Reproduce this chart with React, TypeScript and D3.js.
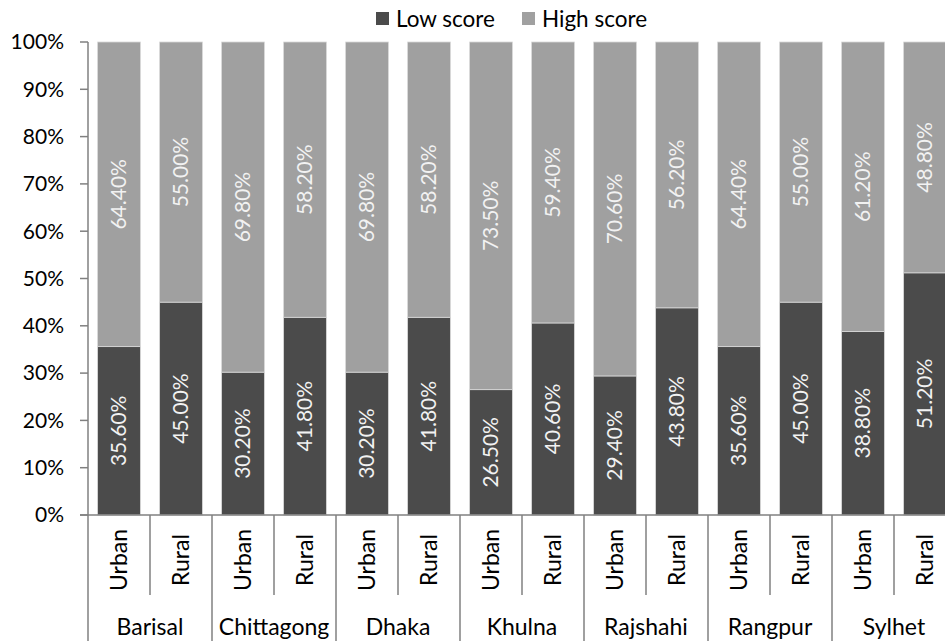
import React from "react";
import * as d3 from "d3";

const regions = ["Barisal", "Chittagong", "Dhaka", "Khulna", "Rajshahi", "Rangpur", "Sylhet"];
const areas = ["Urban", "Rural"];
const lowScore = [35.6, 45.0, 30.2, 41.8, 30.2, 41.8, 26.5, 40.6, 29.4, 43.8, 35.6, 45.0, 38.8, 51.2];
const highScore = [64.4, 55.0, 69.8, 58.2, 69.8, 58.2, 73.5, 59.4, 70.6, 56.2, 64.4, 55.0, 61.2, 48.8];
const yTicks = [0, 10, 20, 30, 40, 50, 60, 70, 80, 90, 100];
const seriesNames = ["Low score", "High score"];

const W = 945;
const H = 641;
const FONT = "Lato, 'Noto Sans', sans-serif";
const DARK = "#4b4b4b";
const LIGHT = "#a0a0a0";
const AXIS = "#808080";

export default function App() {
  const left = 88;
  const top = 42;
  const bottom = 515;
  const band = 62;

  const bars = regions.flatMap((r, i) =>
    areas.map((a, j) => ({ key: `${r}-${a}`, region: r, area: a, idx: i * 2 + j }))
  );

  const x = d3
    .scaleBand<string>()
    .domain(bars.map((b) => b.key))
    .range([left, left + band * bars.length])
    .paddingInner(0.31)
    .paddingOuter(0.155);
  const step = x.step();
  const y = d3.scaleLinear().domain([0, 100]).range([bottom, top]);

  const subDividerBottom = 595;

  return (
    <svg width={W} height={H} style={{ position: "absolute", left: 0, top: 0, background: "#fff" }}>
      {/* legend */}
      <g fontFamily={FONT} fontSize={22.5} fill="#000">
        <rect x={376} y={12} width={13} height={13} fill={DARK} />
        <text x={396} y={27}>{seriesNames[0]}</text>
        <rect x={522} y={12} width={13} height={13} fill={LIGHT} />
        <text x={542} y={27}>{seriesNames[1]}</text>
      </g>

      {/* y axis */}
      <line x1={left} x2={left} y1={top} y2={H} stroke={AXIS} strokeWidth={1.5} />
      {yTicks.map((t) => (
        <g key={t}>
          <line x1={80} x2={left} y1={y(t)} y2={y(t)} stroke={AXIS} strokeWidth={1.5} />
          <text
            x={64}
            y={y(t)}
            dy="0.35em"
            textAnchor="end"
            fontFamily={FONT}
            fontSize={21}
            fill="#000"
          >
            {t}%
          </text>
        </g>
      ))}

      {/* bars */}
      {bars.map((b) => {
        const lo = lowScore[b.idx];
        const hi = highScore[b.idx];
        const bx = x(b.key)!;
        const bw = x.bandwidth();
        const cx = bx + bw / 2;
        const loMid = (y(0) + y(lo)) / 2;
        const hiMid = (y(lo) + y(lo + hi)) / 2;
        return (
          <g key={b.key}>
            <rect x={bx} y={y(lo)} width={bw} height={y(0) - y(lo)} fill={DARK} stroke="#d8d8d8" strokeWidth={0.8} />
            <rect x={bx} y={y(lo + hi)} width={bw} height={y(lo) - y(lo + hi)} fill={LIGHT} stroke="#d8d8d8" strokeWidth={0.8} />
            <text
              transform={`translate(${cx},${loMid}) rotate(-90)`}
              textAnchor="middle"
              dy="0.35em"
              fontFamily={FONT}
              fontSize={21}
              fill="#f2f2f2"
            >
              {lo.toFixed(2)}%
            </text>
            <text
              transform={`translate(${cx},${hiMid}) rotate(-90)`}
              textAnchor="middle"
              dy="0.35em"
              fontFamily={FONT}
              fontSize={21}
              fill="#f2f2f2"
            >
              {hi.toFixed(2)}%
            </text>
          </g>
        );
      })}

      {/* x axis */}
      <line x1={80} x2={W} y1={bottom} y2={bottom} stroke={AXIS} strokeWidth={1.5} />
      {bars.map((b) => {
        const bandLeft = x(b.key)! - (step - x.bandwidth()) / 2;
        const cx = bandLeft + step / 2;
        return (
          <g key={`lab-${b.key}`}>
            {b.idx % 2 === 1 && (
              <line x1={bandLeft} x2={bandLeft} y1={bottom} y2={subDividerBottom} stroke={AXIS} strokeWidth={1.5} />
            )}
            {b.idx % 2 === 0 && b.idx > 0 && (
              <line x1={bandLeft} x2={bandLeft} y1={bottom} y2={H} stroke={AXIS} strokeWidth={1.5} />
            )}
            <text
              transform={`translate(${cx},${560}) rotate(-90)`}
              textAnchor="middle"
              dy="0.35em"
              fontFamily={FONT}
              fontSize={23}
              fill="#000"
            >
              {b.area}
            </text>
          </g>
        );
      })}
      {regions.map((r, i) => {
        const gx = left + step * (i * 2 + 1);
        return (
          <text key={r} x={gx} y={635} textAnchor="middle" fontFamily={FONT} fontSize={23} fill="#000">
            {r}
          </text>
        );
      })}
    </svg>
  );
}
